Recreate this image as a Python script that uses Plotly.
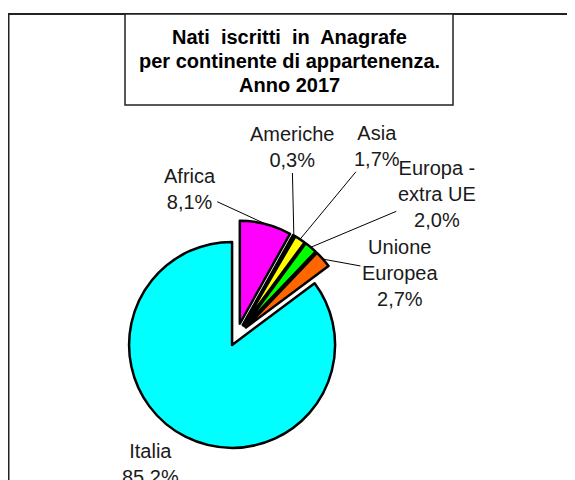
import math
import plotly.graph_objects as go

# data
continents = ["Africa", "Americhe", "Asia", "Europa -<br>extra UE", "Unione<br>Europea", "Italia"]
shares = [8.1, 0.3, 1.7, 2.0, 2.7, 85.2]
share_labels = ["8,1%", "0,3%", "1,7%", "2,0%", "2,7%", "85,2%"]
title_lines = ["Nati  iscritti  in  Anagrafe", "per continente di appartenenza.", "Anno 2017"]

# styling (positions below are in window pixels; page body has an 8px margin)
OFF = 8
W, H = 575 - OFF, 480 - OFF
colors = ["#FF00FF", "#333399", "#FFFF00", "#00FF00", "#FF6600", "#00FFFF"]
pulls = [0.12, 0.12, 0.12, 0.12, 0.12, 0.10]
CX, CY, R = 236.7, 335.7, 103.0          # pie centre / radius
label_offsets = [(-76, -35), (-2, -88), (77, -93), (126, -53), (77, 14), None]
title_y = [37, 61, 85]
FONT = "Liberation Sans, Arial, sans-serif"


def px(x, y):
    return (x - OFF) / W, 1 - (y - OFF) / H


half = R * (1 + max(pulls))
x0, y1 = px(CX - half, CY - half)
x1, y0 = px(CX + half, CY + half)
fig = go.Figure(go.Pie(
    labels=continents,
    values=shares,
    sort=False,
    direction="clockwise",
    rotation=0,
    pull=pulls,
    textinfo="none",
    hoverinfo="label+percent",
    marker=dict(colors=colors, line=dict(color="black", width=2.5)),
    domain=dict(x=[x0, x1], y=[y0, y1]),
    showlegend=False,
))

# labels with leader lines, anchored on the mid-angle of each slice
total = sum(shares)
cum = 0.0
for name, v, lab, pull, off in zip(continents, shares, share_labels, pulls, label_offsets):
    theta = math.radians(360 * (cum + v / 2) / total)
    cum += v
    ex = CX + (1 + pull) * R * math.sin(theta)
    ey = CY - (1 + pull) * R * math.cos(theta)
    text = f"{name}<br>{lab}"
    font = dict(family=FONT, size=20, color="#1a1a1a")
    if off is None:
        x, y = px(150, 464)
        fig.add_annotation(x=x, y=y, xref="paper", yref="paper", text=text,
                           xanchor="center", yanchor="middle",
                           showarrow=False, font=font)
    else:
        x, y = px(ex, ey)
        fig.add_annotation(x=x, y=y, xref="paper", yref="paper", text=text,
                           ax=off[0], ay=off[1], showarrow=True, arrowhead=0,
                           arrowwidth=1, arrowcolor="black", font=font)

# outer frame and title box
fx0, fy1 = px(OFF + 0.5, 14)
fig.add_shape(type="rect", xref="paper", yref="paper",
              x0=fx0, x1=1.05, y0=-0.05, y1=fy1,
              line=dict(color="#222222", width=2), layer="below")
bx0, by1 = px(125, 14)
bx1, by0 = px(453, 105)
fig.add_shape(type="rect", xref="paper", yref="paper",
              x0=bx0, x1=bx1, y0=by0, y1=by1,
              line=dict(color="#222222", width=1.5), fillcolor="white")
for line, ly in zip(title_lines, title_y):
    tx, ty = px(289, ly)
    fig.add_annotation(x=tx, y=ty, xref="paper", yref="paper",
                       text=f"<b>{line}</b>", xanchor="center", yanchor="middle",
                       showarrow=False, font=dict(family=FONT, size=20, color="black"))

fig.update_layout(
    width=W, height=H,
    margin=dict(l=0, r=0, t=0, b=0),
    paper_bgcolor="white",
    plot_bgcolor="white",
)

fig.write_html("out.html")
